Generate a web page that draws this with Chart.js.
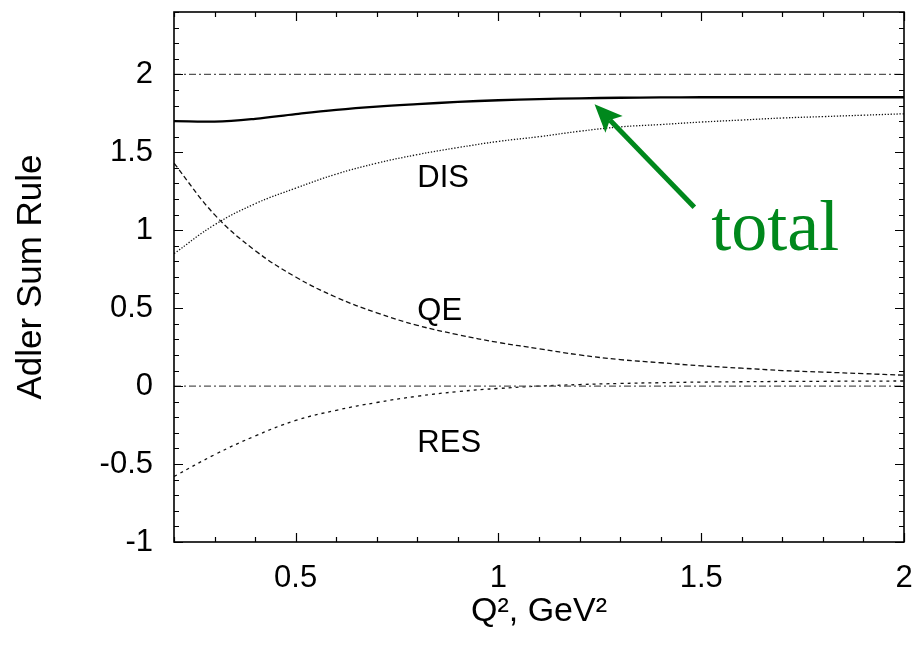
<!DOCTYPE html>
<html>
<head>
<meta charset="utf-8">
<script src="https://cdn.jsdelivr.net/npm/chart.js@4"></script>
<style>
  html, body { margin: 0; padding: 0; background: #ffffff; }
  #wrap { width: 916px; height: 650px; position: relative; }
</style>
</head>
<body>
<div id="wrap"><canvas id="c" width="916" height="650"></canvas></div>
<script>
// ---- data ----
const q2 = [0.2, 0.3, 0.4, 0.5, 0.6, 0.7, 0.8, 0.9, 1.0, 1.1, 1.2, 1.3, 1.4, 1.5, 1.6, 1.7, 1.8, 1.9, 2.0];
const totalVals = [1.70, 1.697, 1.715, 1.745, 1.772, 1.793, 1.809, 1.823, 1.834, 1.841, 1.846, 1.85, 1.852, 1.853, 1.853, 1.853, 1.853, 1.853, 1.853];
const disVals   = [0.85, 1.035, 1.17, 1.27, 1.36, 1.43, 1.485, 1.53, 1.57, 1.60, 1.635, 1.663, 1.678, 1.694, 1.707, 1.72, 1.729, 1.738, 1.747];
const qeVals    = [1.43, 1.10, 0.87, 0.70, 0.57, 0.47, 0.39, 0.33, 0.28, 0.24, 0.20, 0.17, 0.15, 0.13, 0.115, 0.10, 0.09, 0.08, 0.07];
const resVals   = [-0.58, -0.44, -0.32, -0.22, -0.155, -0.105, -0.065, -0.035, -0.015, 0.0, 0.01, 0.017, 0.022, 0.026, 0.028, 0.03, 0.031, 0.032, 0.033];
const refLevels = [2, 0];
const xRange = [0.2, 2.0];
const yRange = [-1, 2.4];
const xTickLabels = [0.5, 1, 1.5, 2];
const yTickLabels = [-1, -0.5, 0, 0.5, 1, 1.5, 2];
const minorStep = 0.1;
const curveLabels = [
  { text: 'DIS', x: 0.8, y: 1.278 },
  { text: 'QE',  x: 0.8, y: 0.423 },
  { text: 'RES', x: 0.8, y: -0.421 }
];
const arrowNote = { text: 'total', textX: 1.525, textY: 0.872, fromX: 1.483, fromY: 1.147, toX: 1.237, toY: 1.808 };

// ---- styling ----
const GREEN = 'rgb(0,136,28)';
const SANS = '"Liberation Sans", Arial, Helvetica, sans-serif';
const SERIF = '"Liberation Serif", "Times New Roman", serif';

function pts(vals) { return q2.map((x, i) => ({ x: x, y: vals[i] })); }
function refLine(v) { return [{ x: xRange[0], y: v }, { x: xRange[1], y: v }]; }

const baseLine = { pointRadius: 0, pointHoverRadius: 0, fill: false, tension: 0.4 };

const datasets = [
  ...refLevels.map(v => Object.assign({}, baseLine, {
    label: 'ref ' + v, data: refLine(v), borderColor: '#555555', borderWidth: 1.2,
    borderDash: [7, 3, 2, 3], tension: 0
  })),
  Object.assign({}, baseLine, { label: 'total', data: pts(totalVals), borderColor: '#000000', borderWidth: 2.3 }),
  Object.assign({}, baseLine, { label: 'DIS', data: pts(disVals), borderColor: '#111111', borderWidth: 1.3, borderDash: [1.3, 1.7] }),
  Object.assign({}, baseLine, { label: 'QE', data: pts(qeVals), borderColor: '#111111', borderWidth: 1.3, borderDash: [5, 3] }),
  Object.assign({}, baseLine, { label: 'RES', data: pts(resVals), borderColor: '#111111', borderWidth: 1.3, borderDash: [3, 4] })
];

const frameTicks = {
  id: 'frameTicks',
  afterDatasetsDraw(chart) {
    const { ctx, chartArea: a, scales: { x, y } } = chart;
    ctx.save();
    ctx.strokeStyle = '#000';
    ctx.lineWidth = 1.2;
    ctx.beginPath();
    const nx = Math.round((xRange[1] - xRange[0]) / minorStep);
    for (let i = 0; i <= nx; i++) {
      const v = +(xRange[0] + i * minorStep).toFixed(6);
      const major = xTickLabels.some(t => Math.abs(t - v) < 1e-6);
      const L = major ? 9 : 5;
      const px = Math.round(x.getPixelForValue(v)) + 0.5;
      ctx.moveTo(px, a.bottom); ctx.lineTo(px, a.bottom - L);
      ctx.moveTo(px, a.top); ctx.lineTo(px, a.top + L);
    }
    const ny = Math.round((yRange[1] - yRange[0]) / minorStep);
    for (let i = 0; i <= ny; i++) {
      const v = +(yRange[0] + i * minorStep).toFixed(6);
      const major = yTickLabels.some(t => Math.abs(t - v) < 1e-6);
      const L = major ? 9 : 5;
      const py = Math.round(y.getPixelForValue(v)) + 0.5;
      ctx.moveTo(a.left, py); ctx.lineTo(a.left + L, py);
      ctx.moveTo(a.right, py); ctx.lineTo(a.right - L, py);
    }
    ctx.stroke();
    ctx.lineWidth = 1.6;
    ctx.strokeRect(a.left, a.top, a.right - a.left, a.bottom - a.top);

    // curve labels
    ctx.fillStyle = '#000';
    ctx.font = '31px ' + SANS;
    ctx.textAlign = 'left';
    ctx.textBaseline = 'alphabetic';
    curveLabels.forEach(l => ctx.fillText(l.text, x.getPixelForValue(l.x), y.getPixelForValue(l.y)));

    // arrow + note
    const x0 = x.getPixelForValue(arrowNote.fromX), y0 = y.getPixelForValue(arrowNote.fromY);
    const x1 = x.getPixelForValue(arrowNote.toX), y1 = y.getPixelForValue(arrowNote.toY);
    const ang = Math.atan2(y1 - y0, x1 - x0);
    const headL = 28, headW = 12;
    const bx = x1 - headL * Math.cos(ang), by = y1 - headL * Math.sin(ang);
    ctx.strokeStyle = GREEN; ctx.fillStyle = GREEN;
    ctx.lineWidth = 5; ctx.lineCap = 'butt';
    ctx.beginPath(); ctx.moveTo(x0, y0); ctx.lineTo(bx + 6 * Math.cos(ang), by + 6 * Math.sin(ang)); ctx.stroke();
    ctx.beginPath();
    ctx.moveTo(x1, y1);
    ctx.lineTo(bx + headW * Math.sin(ang), by - headW * Math.cos(ang));
    ctx.lineTo(bx + 6 * Math.cos(ang), by + 6 * Math.sin(ang));
    ctx.lineTo(bx - headW * Math.sin(ang), by + headW * Math.cos(ang));
    ctx.closePath(); ctx.fill();
    ctx.font = '72px ' + SERIF;
    ctx.textBaseline = 'alphabetic';
    ctx.fillText(arrowNote.text, x.getPixelForValue(arrowNote.textX), y.getPixelForValue(arrowNote.textY));
    ctx.restore();
  }
};

function zeroPad(s) { s.paddingTop = 0; s.paddingBottom = 0; s.paddingLeft = 0; s.paddingRight = 0; }

new Chart(document.getElementById('c'), {
  type: 'line',
  data: { datasets },
  options: {
    responsive: false,
    animation: false,
    layout: { padding: { top: 12, right: 12, left: 0, bottom: 0 } },
    plugins: { legend: { display: false }, tooltip: { enabled: false } },
    scales: {
      x: {
        type: 'linear', min: xRange[0], max: xRange[1],
        grid: { display: false, drawTicks: false },
        border: { display: false },
        afterBuildTicks: s => { s.ticks = xTickLabels.map(v => ({ value: v })); },
        afterFit: s => { s.height = 108; zeroPad(s); },
        ticks: { color: '#000', padding: 18, font: { family: SANS, size: 31 }, callback: v => String(v), maxRotation: 0, autoSkip: false },
        title: { display: true, text: 'Q², GeV²', color: '#000', font: { family: SANS, size: 34 }, padding: { top: 0, bottom: 18 } }
      },
      y: {
        type: 'linear', min: yRange[0], max: yRange[1],
        grid: { display: false, drawTicks: false },
        border: { display: false },
        afterBuildTicks: s => { s.ticks = yTickLabels.map(v => ({ value: v })); },
        afterFit: s => { s.width = 174; zeroPad(s); },
        ticks: { color: '#000', padding: 21, font: { family: SANS, size: 31 }, callback: v => String(v), autoSkip: false },
        title: { display: true, text: 'Adler Sum Rule', color: '#000', font: { family: SANS, size: 35 }, padding: { top: 10, bottom: 0 } }
      }
    }
  },
  plugins: [frameTicks]
});
</script>
</body>
</html>
